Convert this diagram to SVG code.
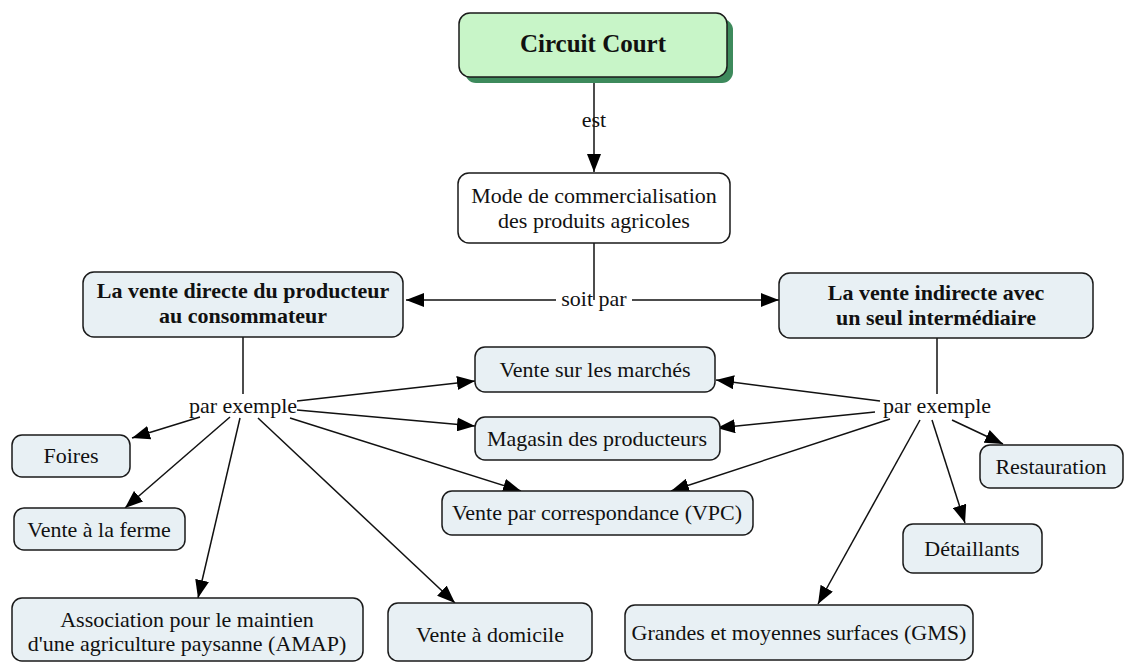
<svg xmlns="http://www.w3.org/2000/svg" width="1138" height="664" viewBox="0 0 1138 664">
<style>
.n{fill:#e8f0f4;stroke:#1a1a1a;stroke-width:1.5}
.t{font-family:"Liberation Serif","Times New Roman",serif;font-size:22px;fill:#111;text-anchor:middle}
.b{font-weight:bold}
.c{stroke:#111;stroke-width:1.5;fill:none}
.a{marker-end:url(#ah)}
</style>
<defs>
<marker id="ah" markerUnits="userSpaceOnUse" markerWidth="19" markerHeight="14" refX="18" refY="7" orient="auto"><path d="M0,0 L18,7 L0,14 z" fill="#000"/></marker>
<marker id="as" markerUnits="userSpaceOnUse" markerWidth="19" markerHeight="14" refX="0" refY="7" orient="auto"><path d="M18,0 L0,7 L18,14 z" fill="#000"/></marker>
</defs>
<rect width="1138" height="664" fill="#fff"/>
<g id="connectors">
<line class="c a" x1="594" y1="80" x2="594" y2="172"/>
<text class="t" x="594" y="127">est</text>
<line class="c" x1="594" y1="243" x2="594" y2="300"/>
<line class="c" x1="406" y1="300" x2="556" y2="300" marker-start="url(#as)"/>
<line class="c a" x1="632" y1="300" x2="779" y2="300"/>
<text class="t" x="594" y="306">soit par</text>
<line class="c" x1="243" y1="337" x2="243" y2="394"/>
<text class="t" x="243" y="413">par exemple</text>
<line class="c" x1="937" y1="338" x2="937" y2="394"/>
<text class="t" x="937" y="413">par exemple</text>
<line class="c a" x1="200" y1="417" x2="132" y2="438"/>
<line class="c a" x1="230" y1="417" x2="125" y2="508"/>
<line class="c a" x1="240" y1="418" x2="198" y2="598"/>
<line class="c a" x1="258" y1="418" x2="455" y2="603"/>
<line class="c a" x1="297" y1="401" x2="475" y2="381"/>
<line class="c a" x1="297" y1="410" x2="475" y2="426"/>
<line class="c a" x1="290" y1="418" x2="521" y2="491"/>
<line class="c a" x1="880" y1="401" x2="716" y2="380"/>
<line class="c a" x1="875" y1="412" x2="717" y2="428"/>
<line class="c a" x1="890" y1="419" x2="671" y2="491"/>
<line class="c a" x1="920" y1="420" x2="818" y2="604"/>
<line class="c a" x1="932" y1="420" x2="965" y2="523"/>
<line class="c a" x1="952" y1="420" x2="1003" y2="444"/>
</g>
<g id="circuit-court">
<rect x="465" y="19" width="268" height="64" rx="11" fill="#3d8a5c"/>
<rect x="459" y="13" width="268" height="64" rx="11" fill="#c8f5c8" stroke="#1a1a1a" stroke-width="1.5"/>
<text class="t b" x="593" y="52" style="font-size:25px">Circuit Court</text>
</g>
<g id="mode">
<rect x="458" y="173" width="272" height="70" rx="11" fill="#fff" stroke="#1a1a1a" stroke-width="1.5"/>
<text class="t" x="594" y="203">Mode de commercialisation</text>
<text class="t" x="594" y="228">des produits agricoles</text>
</g>
<g id="vente-directe">
<rect class="n" x="83" y="272" width="320" height="65" rx="11"/>
<text class="t b" x="243" y="298">La vente directe du producteur</text>
<text class="t b" x="243" y="323">au consommateur</text>
</g>
<g id="vente-indirecte">
<rect class="n" x="779" y="273" width="314" height="65" rx="11"/>
<text class="t b" x="936" y="300">La vente indirecte avec</text>
<text class="t b" x="936" y="325">un seul intermédiaire</text>
</g>
<g id="foires">
<rect class="n" x="12" y="435" width="118" height="42" rx="10"/>
<text class="t" x="71" y="463">Foires</text>
</g>
<g id="vente-ferme">
<rect class="n" x="14" y="508" width="171" height="42" rx="10"/>
<text class="t" x="99" y="537">Vente à la ferme</text>
</g>
<g id="amap">
<rect class="n" x="12" y="598" width="351" height="63" rx="10"/>
<text class="t" x="187" y="627">Association pour le maintien</text>
<text class="t" x="187" y="651">d'une agriculture paysanne (AMAP)</text>
</g>
<g id="vente-domicile">
<rect class="n" x="388" y="603" width="204" height="58" rx="10"/>
<text class="t" x="490" y="642">Vente à domicile</text>
</g>
<g id="marches">
<rect class="n" x="475" y="347" width="240" height="45" rx="10"/>
<text class="t" x="595" y="377">Vente sur les marchés</text>
</g>
<g id="magasin">
<rect class="n" x="475" y="417" width="245" height="43" rx="10"/>
<text class="t" x="597" y="446">Magasin des producteurs</text>
</g>
<g id="vpc">
<rect class="n" x="442" y="491" width="311" height="44" rx="10"/>
<text class="t" x="597" y="520">Vente par correspondance (VPC)</text>
</g>
<g id="restauration">
<rect class="n" x="980" y="445" width="143" height="43" rx="10"/>
<text class="t" x="1051" y="474">Restauration</text>
</g>
<g id="detaillants">
<rect class="n" x="903" y="524" width="139" height="49" rx="10"/>
<text class="t" x="972" y="556">Détaillants</text>
</g>
<g id="gms">
<rect class="n" x="625" y="605" width="348" height="55" rx="10"/>
<text class="t" x="799" y="640">Grandes et moyennes surfaces (GMS)</text>
</g>
</svg>
